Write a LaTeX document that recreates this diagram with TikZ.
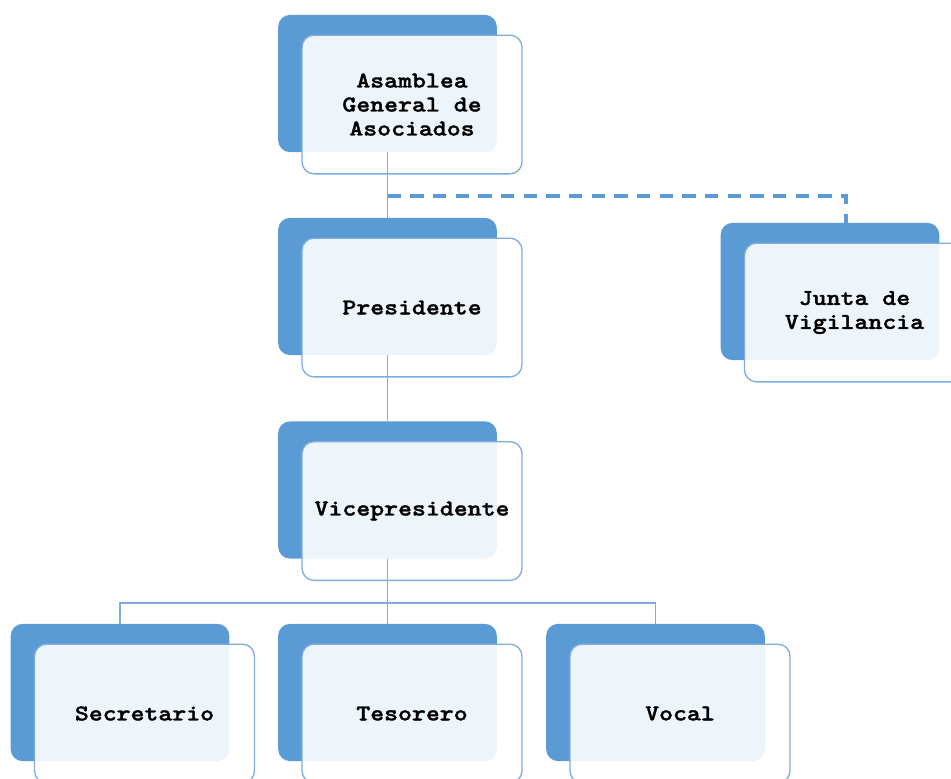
\documentclass[tikz,border=0pt]{standalone}
\usepackage{fontspec}
\newfontfamily\orgfont{lmmonolt10-bold}[Extension=.otf, FakeStretch=1.17, FakeBold=1.5]
\definecolor{orgblue}{HTML}{5B9BD5}
\definecolor{orgline}{HTML}{7EACDD}
\tikzset{
  backbox/.style={rectangle, rounded corners=9pt, fill=orgblue,
    minimum width=164pt, minimum height=103pt, inner sep=0pt},
  frontbox/.style={rectangle, rounded corners=9pt, draw=orgline, line width=1pt,
    fill=white, fill opacity=.9, text opacity=1,
    minimum width=165pt, minimum height=104pt, inner sep=0pt, align=center,
    font=\orgfont\fontsize{17}{18}\selectfont},
  conn/.style={draw=orgline, line width=1.3pt},
  dashconn/.style={draw=orgblue, line width=2.4pt, dash pattern=on 10pt off 7pt}
}
\begin{document}
\begin{tikzpicture}[x=.75pt, y=-.75pt]
				\useasboundingbox (0,0) rectangle (951,779);
				\clip (0,0) rectangle (951,779);
				% cajas: fondo azul y tarjeta clara encima
				\foreach \name/\x/\y/\txt in {
					asamblea/387.5/83.5/{Asamblea\\General de\\Asociados},
					presidente/387.5/286.5/Presidente,
					vice/387.5/490/Vicepresidente,
					junta/830/291.5/{Junta de\\Vigilancia},
					secretario/120/692.5/Secretario,
					tesorero/387.5/692.5/Tesorero,
					vocal/655.5/692.5/Vocal} {
					\node[backbox] (\name) at (\x,\y) {};
					\node[frontbox] (\name-f) at (\x+24.5,\y+21) {\txt};
				}
				% conectores
				\draw[conn] (asamblea.south) -- (presidente.north);
				\coordinate (ramal) at (387.5,196);
				\draw[dashconn] (ramal) -| ([xshift=12pt]junta.north);
				\draw[conn] (presidente.south) -- (vice.north);
				\draw[conn] (vice.south) -- (tesorero.north);
				\coordinate (bus) at (387.5,603);
				\draw[conn] (secretario.north) |- (bus) -| (vocal.north);
\end{tikzpicture}
\end{document}
